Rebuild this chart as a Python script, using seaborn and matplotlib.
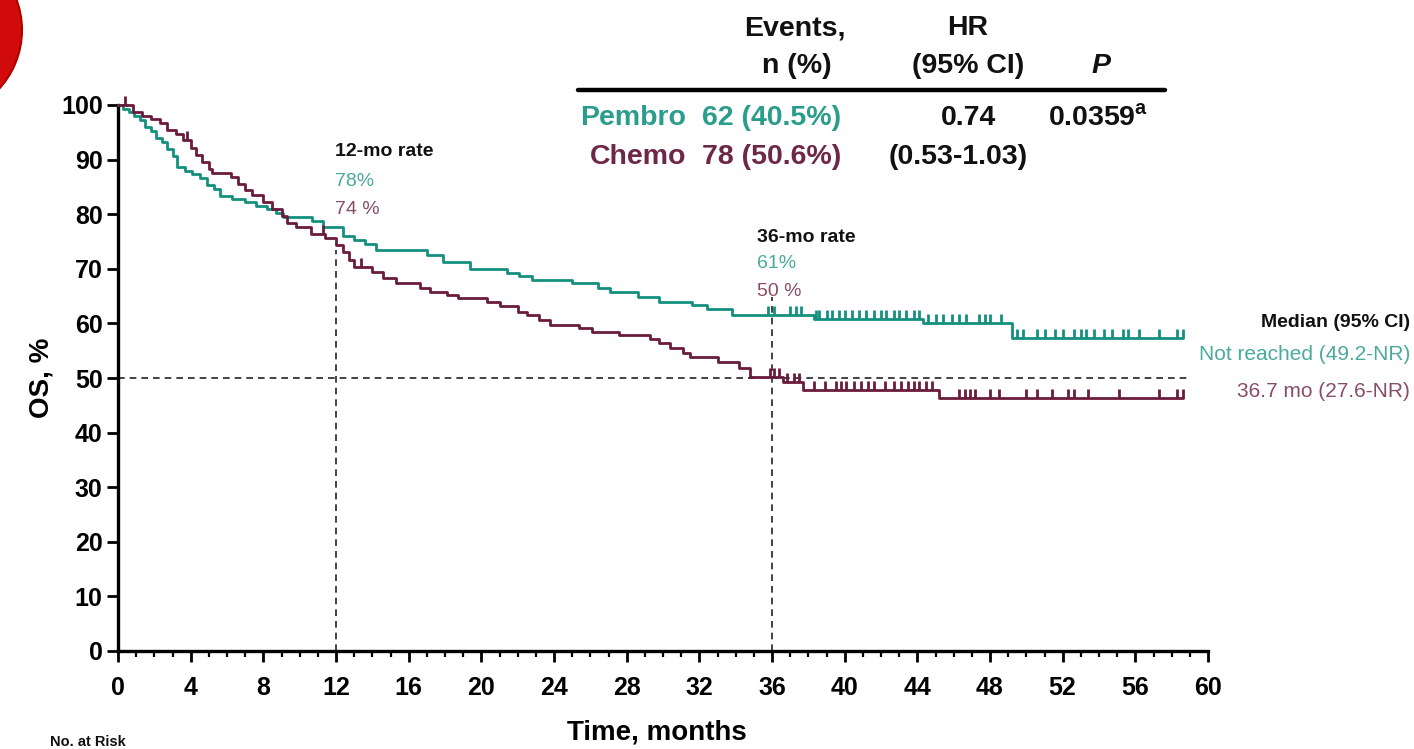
import numpy as np
import pandas as pd
import matplotlib
matplotlib.use("Agg")
import matplotlib.pyplot as plt
from matplotlib.patches import Circle
import seaborn as sns

# ---------------- data ----------------
pembro_time = [0, 0.3, 0.6, 0.9, 1.2, 1.5, 1.8, 2.1, 2.4, 2.7, 3.0, 3.25, 3.7, 4.1, 4.5, 4.9,
               5.3, 5.6, 6.3, 7.0, 7.6, 8.2, 8.7, 9.1, 10.7, 11.3, 12.4, 13.0, 13.6, 14.2,
               17.0, 17.9, 19.4, 21.4, 22.1, 22.8, 25.0, 26.4, 27.1, 28.6, 29.8, 31.6,
               32.4, 33.8, 38.3, 44.3, 49.2, 58.6]
pembro_surv = [100, 99.3, 98.7, 98.0, 97.3, 96.0, 95.3, 94.0, 93.3, 92.0, 90.7, 88.7, 88.0,
               87.3, 86.6, 85.4, 84.7, 83.4, 82.8, 82.2, 81.5, 80.9, 80.2, 79.4, 78.7, 77.7,
               76.0, 75.3, 74.6, 73.4, 72.5, 71.3, 70.0, 69.3, 68.7, 68.0, 67.4, 66.5, 65.8,
               64.9, 64.0, 63.4, 62.6, 61.5, 60.8, 60.0, 57.3, 57.3]
pembro_censor = [35.8, 36.1, 37.0, 37.3, 37.6, 38.4, 38.6, 39.0, 39.3, 39.7, 40.0, 40.4, 40.8,
                 41.2, 41.6, 42.0, 42.3, 42.7, 43.0, 43.4, 43.8, 44.1, 44.6, 45.0, 45.4, 45.9,
                 46.3, 46.7, 47.4, 47.7, 48.0, 48.6, 49.5, 49.8, 50.6, 51.0, 51.6, 52.0, 52.6,
                 53.0, 53.3, 53.7, 54.3, 54.7, 55.3, 55.6, 56.2, 57.3, 58.3, 58.6]

chemo_time = [0, 0.8, 1.3, 1.8, 2.3, 2.7, 3.2, 3.6, 4.0, 4.3, 4.6, 5.0, 5.2, 6.2, 6.6, 7.0,
              7.4, 8.0, 8.5, 9.0, 9.3, 9.8, 10.6, 11.4, 12.0, 12.4, 12.7, 13.0, 14.0, 14.6,
              15.3, 16.6, 17.2, 18.1, 18.7, 20.3, 21.0, 22.0, 22.5, 23.2, 23.8, 25.4, 26.1,
              27.6, 29.3, 29.8, 30.4, 31.1, 31.5, 33.0, 34.2, 34.8, 36.6, 37.7, 45.2, 58.6]
chemo_surv = [100, 98.7, 98.0, 97.4, 96.7, 95.4, 94.7, 93.5, 92.2, 90.9, 89.6, 88.3, 87.6,
              86.9, 85.6, 84.4, 83.5, 82.2, 80.9, 79.6, 78.3, 77.6, 76.3, 75.6, 74.3, 73.0,
              71.6, 70.3, 69.4, 68.3, 67.4, 66.5, 65.8, 65.2, 64.6, 64.0, 63.2, 62.1, 61.5,
              60.6, 59.7, 59.2, 58.4, 57.9, 57.1, 56.4, 55.5, 54.6, 53.9, 52.9, 51.8, 50.2,
              49.3, 47.8, 46.3, 46.3]
chemo_censor = [0.4, 3.8, 11.3, 13.4, 35.9, 36.1, 36.4, 36.8, 37.2, 37.5, 38.3, 38.9, 39.5,
                39.8, 40.1, 40.5, 40.9, 41.3, 41.6, 42.2, 42.7, 43.1, 43.5, 43.8, 44.1, 44.5,
                44.8, 46.3, 46.6, 46.9, 47.2, 48.0, 48.5, 50.0, 50.6, 51.4, 52.3, 52.6, 53.4,
                55.1, 57.3, 58.3, 58.6]

x_ticks = list(range(0, 61, 4))
y_ticks = list(range(0, 101, 10))

TEAL = "#14907f"
TEAL_TXT = "#2a9d8c"
TEAL_LIGHT = "#4aaa9c"
MAROON = "#6a1c3c"
MAROON_TXT = "#6e2747"
MAROON_LIGHT = "#8a4d66"

# ---------------- styling ----------------
sns.set_theme(style="ticks")
FONT = ["Liberation Sans", "DejaVu Sans"]
plt.rcParams["font.family"] = FONT

W, H = 1414, 749
fig = plt.figure(figsize=(W / 100, H / 100), dpi=100)
fig.patch.set_facecolor("white")

def fx(px):
    return px / W

def fy(py):
    return 1 - py / H

ax_left, ax_right, ax_top, ax_bottom = 118, 1208, 105, 651
ax = fig.add_axes([fx(ax_left), fy(ax_bottom), fx(ax_right - ax_left), (ax_bottom - ax_top) / H])
ax.set_facecolor("white")

# ---------------- curves ----------------
def make_df(t, s, name):
    return pd.DataFrame({"time": t, "surv": s, "arm": name})

df = pd.concat([make_df(pembro_time, pembro_surv, "Pembro"),
                make_df(chemo_time, chemo_surv, "Chemo")], ignore_index=True)

sns.lineplot(data=df, x="time", y="surv", hue="arm",
             palette={"Pembro": TEAL, "Chemo": MAROON},
             estimator=None, sort=False, drawstyle="steps-post",
             linewidth=2.0, legend=False, ax=ax, zorder=3)
for line in ax.lines:
    line.set_clip_on(False)

def surv_at(times, t_arr, s_arr):
    t_arr = np.asarray(t_arr)
    s_arr = np.asarray(s_arr)
    idx = np.searchsorted(t_arr, np.asarray(times), side="right") - 1
    return s_arr[np.clip(idx, 0, len(s_arr) - 1)]

cens = pd.concat([
    pd.DataFrame({"time": pembro_censor,
                  "surv": surv_at(pembro_censor, pembro_time, pembro_surv), "arm": "Pembro"}),
    pd.DataFrame({"time": chemo_censor,
                  "surv": surv_at(chemo_censor, chemo_time, chemo_surv), "arm": "Chemo"}),
], ignore_index=True)
sns.scatterplot(data=cens, x="time", y="surv", hue="arm",
                palette={"Pembro": TEAL, "Chemo": MAROON},
                marker=2, s=45, linewidth=2.0, legend=False, ax=ax, zorder=4, clip_on=False)

# ---------------- reference lines ----------------
dash_kw = dict(color="#222222", linestyle=(0, (4, 3)), linewidth=1.2, zorder=2)
ax.plot([12, 12], [0, 73.5], **dash_kw)
ax.plot([36, 36], [0, 64.8], **dash_kw)
ax.plot([0, 58.9], [50, 50], **dash_kw)

# ---------------- axes ----------------
ax.set_xlim(0, 60)
ax.set_ylim(0, 100)
ax.set_xticks(x_ticks)
ax.set_xticks(np.arange(0, 61, 1), minor=True)
ax.set_yticks(y_ticks)
ax.set_xticklabels([str(v) for v in x_ticks], fontsize=18, fontweight="bold")
ax.set_yticklabels([str(v) for v in y_ticks], fontsize=18, fontweight="bold")
ax.tick_params(axis="both", which="major", direction="out", length=8, width=2.0,
               color="black", labelcolor="black")
ax.tick_params(axis="x", which="major", pad=10)
ax.tick_params(axis="y", which="major", pad=3)
ax.tick_params(axis="x", which="minor", direction="out", length=4.5, width=1.6, color="black")
for side in ["top", "right"]:
    ax.spines[side].set_visible(False)
for side in ["left", "bottom"]:
    ax.spines[side].set_linewidth(2.4)
    ax.spines[side].set_color("black")
ax.grid(False)

ax.set_xlabel("Time, months", fontsize=20, fontweight="bold", color="black")
ax.set_ylabel("OS, %", fontsize=20, fontweight="bold", color="black")
ax.xaxis.set_label_coords((657 - ax_left) / (ax_right - ax_left), -(719 - ax_bottom) / (ax_bottom - ax_top))
ax.yaxis.set_label_coords(-(118 - 55) / (ax_right - ax_left), 0.5)

# ---------------- annotations ----------------
ann_kw = dict(transform=fig.transFigure, ha="left", va="center")
fig.text(fx(335), fy(152), "12-mo rate", fontsize=14, fontweight="bold", color="#111111", **ann_kw)
fig.text(fx(335), fy(181), "78%", fontsize=14, color=TEAL_LIGHT, **ann_kw)
fig.text(fx(335), fy(209), "74 %", fontsize=14, color=MAROON_LIGHT, **ann_kw)
fig.text(fx(757), fy(237), "36-mo rate", fontsize=14, fontweight="bold", color="#111111", **ann_kw)
fig.text(fx(757), fy(264), "61%", fontsize=14, color=TEAL_LIGHT, **ann_kw)
fig.text(fx(757), fy(292), "50 %", fontsize=14, color=MAROON_LIGHT, **ann_kw)

# right-side medians
fig.text(fx(1410), fy(322), "Median (95% CI)", fontsize=14, fontweight="bold",
         color="#111111", ha="right", va="center")
fig.text(fx(1410), fy(355), "Not reached (49.2-NR)", fontsize=15, color=TEAL_LIGHT,
         ha="right", va="center")
fig.text(fx(1410), fy(392), "36.7 mo (27.6-NR)", fontsize=15, color=MAROON_LIGHT,
         ha="right", va="center")

# ---------------- table ----------------
TFS = 20.5
fig.text(fx(795), fy(28), "Events,", fontsize=TFS, fontweight="bold", ha="center", va="center", color="#111111")
fig.text(fx(797), fy(66), "n (%)", fontsize=TFS, fontweight="bold", ha="center", va="center", color="#111111")
fig.text(fx(968), fy(28), "HR", fontsize=TFS, fontweight="bold", ha="center", va="center", color="#111111")
fig.text(fx(968), fy(66), "(95% CI)", fontsize=TFS, fontweight="bold", ha="center", va="center", color="#111111")
fig.text(fx(1101), fy(66), "P", fontsize=TFS, fontweight="bold", fontstyle="italic",
         ha="center", va="center", color="#111111")
fig.add_artist(plt.Line2D([fx(578), fx(1165)], [fy(90), fy(90)], color="black",
                          linewidth=3.2, transform=fig.transFigure))
fig.text(fx(686), fy(118), "Pembro", fontsize=TFS, fontweight="bold", ha="right", va="center", color=TEAL_TXT)
fig.text(fx(686), fy(157), "Chemo", fontsize=TFS, fontweight="bold", ha="right", va="center", color=MAROON_TXT)
fig.text(fx(702), fy(118), "62 (40.5%)", fontsize=TFS, fontweight="bold", ha="left", va="center", color=TEAL_TXT)
fig.text(fx(702), fy(157), "78 (50.6%)", fontsize=TFS, fontweight="bold", ha="left", va="center", color=MAROON_TXT)
fig.text(fx(968), fy(118), "0.74", fontsize=TFS, fontweight="bold", ha="center", va="center", color="#111111")
fig.text(fx(958), fy(157), "(0.53-1.03)", fontsize=TFS, fontweight="bold", ha="center", va="center", color="#111111")
fig.text(fx(1048), fy(118), "0.0359$^{\\mathregular{a}}$", fontsize=TFS, fontweight="bold",
         ha="left", va="center", color="#111111")

# No. at Risk
fig.text(fx(50), fy(742), "No. at Risk", fontsize=10.5, fontweight="bold", ha="left",
         va="center", color="#111111")

# red decorative blob top-left
fig.add_artist(Circle((-65, H - 30), 87, transform=None, facecolor="#d10a0a",
                      edgecolor="#b00000", linewidth=1.5, zorder=10))

fig.savefig("out.png", dpi=100, facecolor="white")
